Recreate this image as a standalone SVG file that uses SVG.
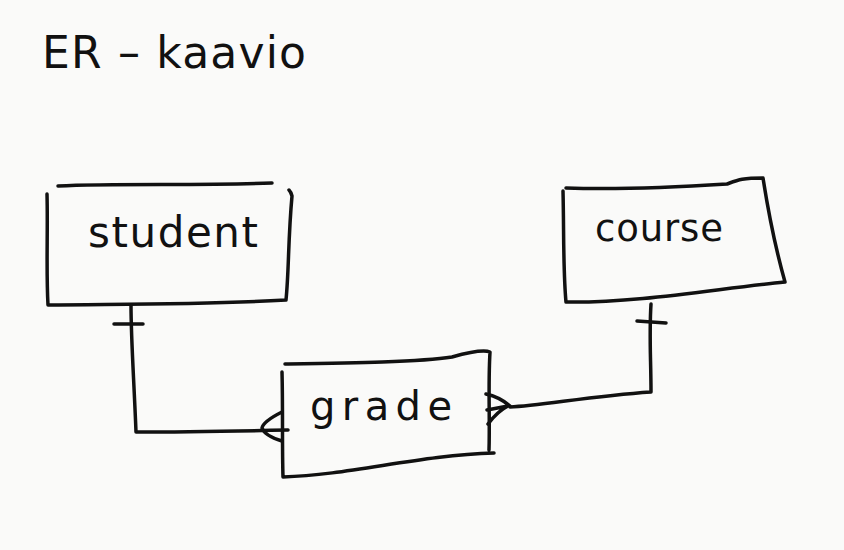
<svg xmlns="http://www.w3.org/2000/svg" width="844" height="550" viewBox="0 0 844 550">
<style>
.ln{fill:none;stroke:#111;stroke-width:3.5;stroke-linecap:round;stroke-linejoin:round}
.tx{font-family:"DejaVu Sans","Liberation Sans",sans-serif;fill:#111}
</style>
<rect width="844" height="550" fill="#fafaf9"/>
<text class="tx" x="42" y="68" font-size="44" textLength="264" lengthAdjust="spacing">ER – kaavio</text>
<g id="student">
<path class="ln" d="M58,186 C120,183 200,186 272,183 M47,194 C48,230 46,270 48,305 C120,304 200,305 286,300 C289,270 288,240 292,196 C291,192 290,191 289,190"/>
<text class="tx" x="88" y="247" font-size="42" textLength="170" lengthAdjust="spacing">student</text>
</g>
<g id="course">
<path class="ln" d="M566,188 C620,190 680,187 727,184 C738,180 742,178 763,178 C768,210 776,250 785,282 C720,288 640,303 566,302 C563,270 564,230 563,191"/>
<text class="tx" x="595" y="241" font-size="37" textLength="128" lengthAdjust="spacing">course</text>
</g>
<g id="grade">
<path class="ln" d="M285,364 C350,363 420,362 452,357 C470,352 485,350 490,352 C488,385 490,420 489,450 M282,372 C283,410 282,445 283,477 C350,475 420,455 494,453"/>
<text class="tx" x="310" y="420" font-size="40" textLength="142" lengthAdjust="spacing">grade</text>
</g>
<g id="connectors">
<path class="ln" d="M131,305 C131,340 134,380 136,432 C180,432 240,431 288,430"/>
<path class="ln" d="M114,324 L143,324"/>
<path class="ln" d="M282,412 C270,418 263,423 262,428 C264,434 272,438 282,441"/>
<path class="ln" d="M510,407 C540,406 590,396 651,392 C651,360 649,335 651,304"/>
<path class="ln" d="M637,321 L666,323"/>
<path class="ln" d="M486,394 C495,396 503,400 510,406 M487,410 L508,406 M488,424 C494,416 500,410 508,406"/>
</g>
</svg>
